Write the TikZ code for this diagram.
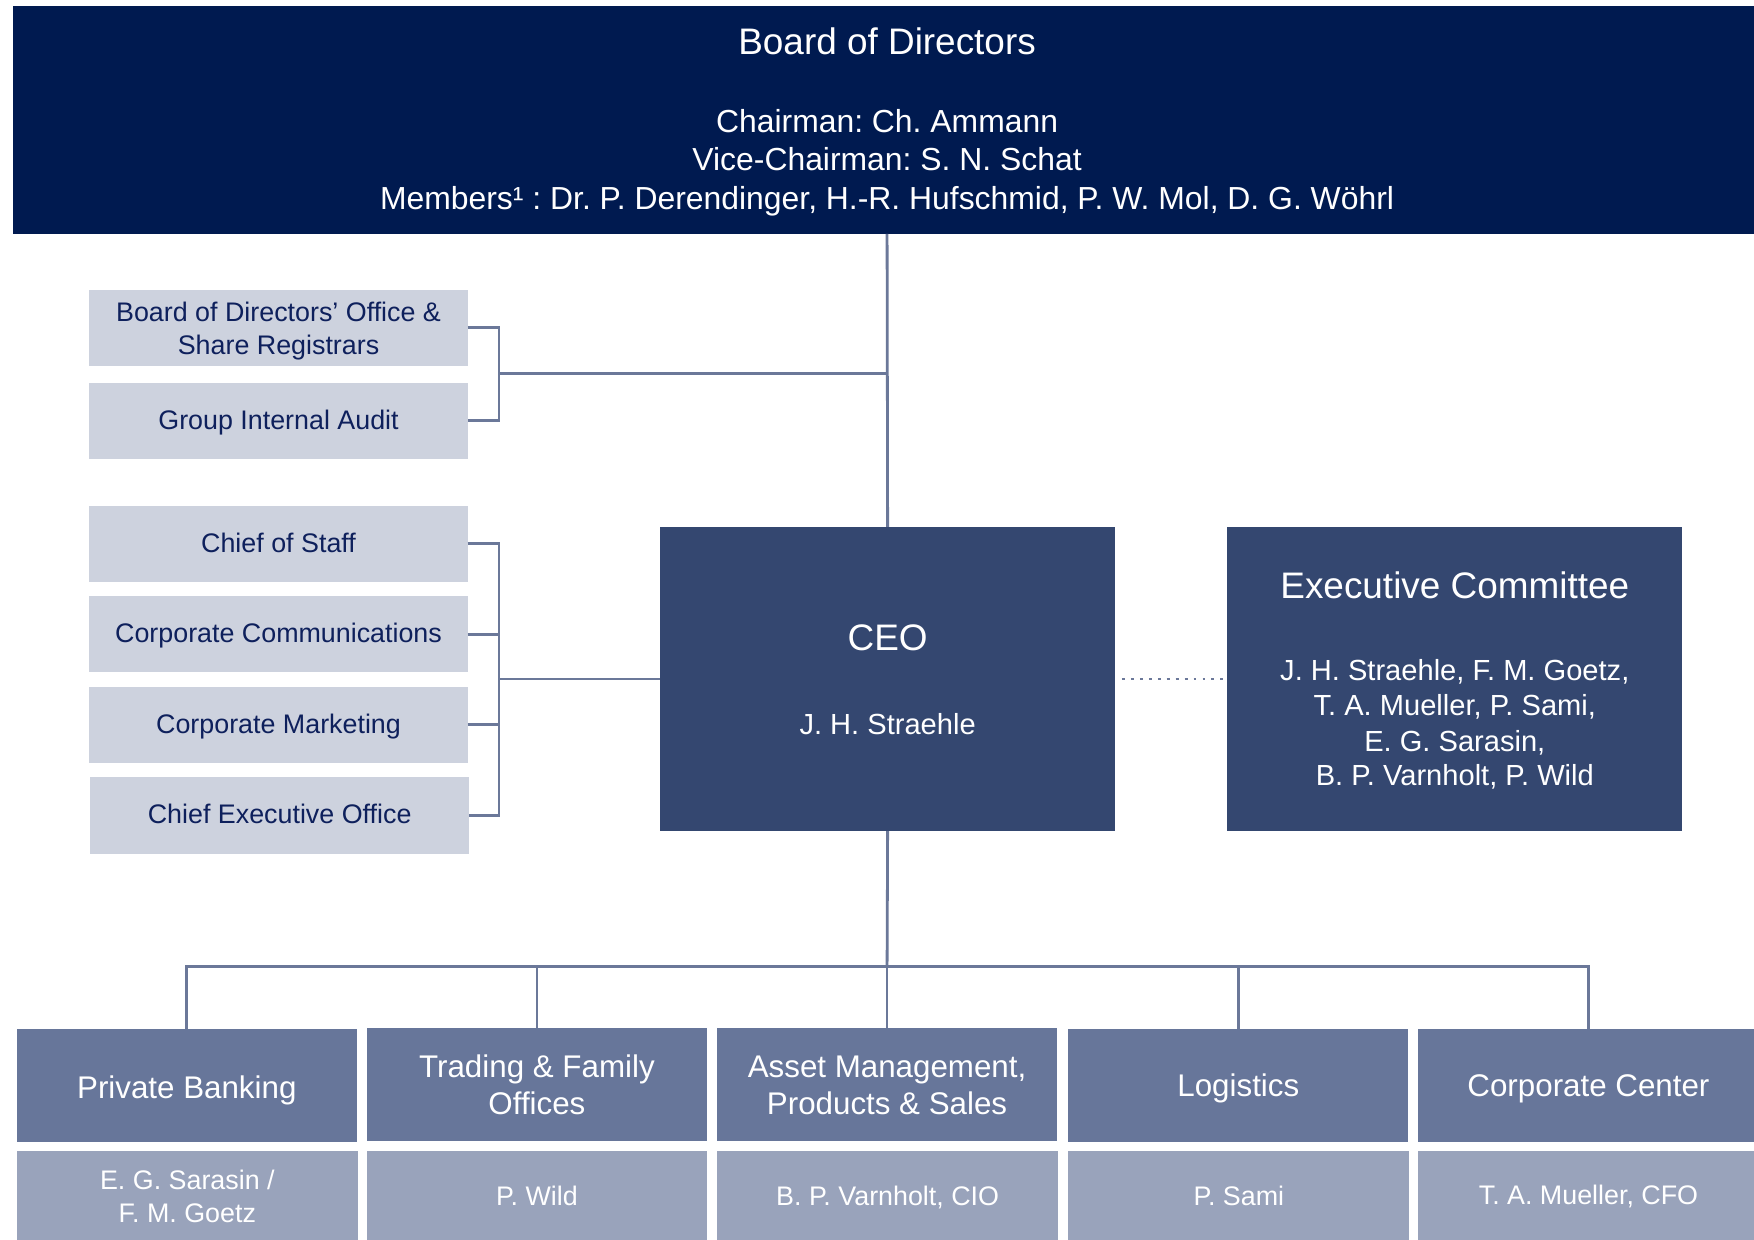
\documentclass[tikz,border=0pt]{standalone}
\usepackage{fontspec}
\setmainfont{Liberation Sans}
\frenchspacing
\definecolor{boardc}{RGB}{0,26,80}
\definecolor{ceoc}{RGB}{52,71,112}
\definecolor{lightc}{RGB}{205,210,222}
\definecolor{divc}{RGB}{103,118,154}
\definecolor{namec}{RGB}{153,163,187}
\definecolor{linec}{RGB}{107,120,153}
\definecolor{navytext}{RGB}{14,32,92}
\newcommand{\mytext}[5]{\node[anchor=base,inner sep=0pt,text=#4,font=\fontsize{#3}{#3}\selectfont\frenchspacing] (#1) at (#2) {#5};}
\begin{document}
\begin{tikzpicture}[x=1pt,y=-1pt,
  box/.style={draw=none,inner sep=0pt,outer sep=0pt,rectangle},
  conn/.style={draw=linec,line width=2.5pt},
  dotconn/.style={draw=linec,line width=2.6pt,dash pattern=on 2.6pt off 5.4pt,shorten <=6pt,shorten >=4pt}]
\useasboundingbox (0,0) rectangle (1568,1108);
% boxes
\node[box,fill=boardc,minimum width=1562pt,minimum height=204pt] (board) at (793,107) {};
\node[box,fill=lightc,minimum width=338pt,minimum height=68pt] (bdo) at (249,293) {};
\node[box,fill=lightc,minimum width=338pt,minimum height=68pt] (gia) at (249,376) {};
\node[box,fill=lightc,minimum width=338pt,minimum height=68pt] (cos) at (249,486) {};
\node[box,fill=lightc,minimum width=338pt,minimum height=68pt] (cc) at (249,567) {};
\node[box,fill=lightc,minimum width=338pt,minimum height=68pt] (cm) at (249,648) {};
\node[box,fill=lightc,minimum width=339pt,minimum height=68pt] (ceooff) at (250,729) {};
\node[box,fill=ceoc,minimum width=407pt,minimum height=272pt] (ceo) at (793.5,607) {};
\node[box,fill=ceoc,minimum width=407pt,minimum height=272pt] (exec) at (1300.5,607) {};
\node[box,fill=divc,minimum width=304pt,minimum height=101pt] (pb) at (167,970.5) {};
\node[box,fill=divc,minimum width=304pt,minimum height=101pt] (tfo) at (480,969.5) {};
\node[box,fill=divc,minimum width=304pt,minimum height=101pt] (am) at (793,969.5) {};
\node[box,fill=divc,minimum width=304pt,minimum height=101pt] (log) at (1107,970.5) {};
\node[box,fill=divc,minimum width=304pt,minimum height=101pt] (cctr) at (1420,970.5) {};
\node[box,fill=namec,minimum width=305pt,minimum height=86pt] (n1) at (167.5,1072) {};
\node[box,fill=namec,minimum width=304pt,minimum height=86pt] (n2) at (480,1072) {};
\node[box,fill=namec,minimum width=305pt,minimum height=86pt] (n3) at (793.5,1072) {};
\node[box,fill=namec,minimum width=305pt,minimum height=86pt] (n4) at (1107.5,1072) {};
\node[box,fill=namec,minimum width=304pt,minimum height=86pt] (n5) at (1420,1072) {};
% texts
\mytext{t1}{793,49}{33}{white}{Board of Directors}
\mytext{t2}{793,118.3}{28.5}{white}{Chairman: Ch. Ammann}
\mytext{t3}{793,152.3}{28.5}{white}{Vice-Chairman: S. N. Schat}
\mytext{t4}{793,187.3}{28.5}{white}{Members¹ : Dr. P. Derendinger, H.-R. Hufschmid, P. W. Mol, D. G. Wöhrl}
\mytext{t5}{249,287.6}{24}{navytext}{Board of Directors’ Office \&}
\mytext{t6}{249,316.6}{24}{navytext}{Share Registrars}
\mytext{t7}{249,383.6}{24}{navytext}{Group Internal Audit}
\mytext{t8}{249,493.6}{24}{navytext}{Chief of Staff}
\mytext{t9}{249,574.6}{24}{navytext}{Corporate Communications}
\mytext{t10}{249,655.6}{24}{navytext}{Corporate Marketing}
\mytext{t11}{250,736.6}{24}{navytext}{Chief Executive Office}
\mytext{t12}{793.5,581.9}{33}{white}{CEO}
\mytext{t13}{793.5,656.4}{26}{white}{J. H. Straehle}
\mytext{t14}{1300.5,534.9}{33}{white}{Executive Committee}
\mytext{t15}{1300.5,608.4}{26}{white}{J. H. Straehle, F. M. Goetz,}
\mytext{t16}{1300.5,639.4}{26}{white}{T. A. Mueller, P. Sami,}
\mytext{t17}{1300.5,671.4}{26}{white}{E. G. Sarasin,}
\mytext{t18}{1300.5,702.4}{26}{white}{B. P. Varnholt, P. Wild}
\mytext{t19}{167,982}{28}{white}{Private Banking}
\mytext{t20}{480,963}{28}{white}{Trading \& Family}
\mytext{t21}{480,996}{28}{white}{Offices}
\mytext{t22}{793,963}{28}{white}{Asset Management,}
\mytext{t23}{793,996}{28}{white}{Products \& Sales}
\mytext{t24}{1107,980}{28}{white}{Logistics}
\mytext{t25}{1420,980}{28}{white}{Corporate Center}
\mytext{t26}{167.5,1063.6}{24}{white}{E. G. Sarasin /}
\mytext{t27}{167.5,1092.6}{24}{white}{F. M. Goetz}
\mytext{t28}{480,1077.6}{24}{white}{P. Wild}
\mytext{t29}{793.5,1077.6}{24}{white}{B. P. Varnholt, CIO}
\mytext{t30}{1107.5,1077.6}{24}{white}{P. Sami}
\mytext{t31}{1420,1076.6}{24}{white}{T. A. Mueller, CFO}
% connectors
\coordinate (j1) at (446,334);
\coordinate (j2) at (446,607);
\coordinate (bus) at (793,864);
\draw[conn] (board.south) -- (ceo.north);
\draw[conn] (bdo.east) -- (bdo.east -| j1) -- (gia.east -| j1) -- (gia.east);
\draw[conn] (j1) -- (j1 -| ceo.north);
\draw[conn] (cos.east) -- (cos.east -| j2) -- (ceooff.east -| j2) -- (ceooff.east);
\draw[conn] (cc.east) -- (cc.east -| j2);
\draw[conn] (cm.east) -- (cm.east -| j2);
\draw[conn] (j2) -- (ceo.west);
\draw[dotconn] (ceo.east) -- (exec.west);
\draw[conn] (ceo.south) -- (bus);
\draw[conn] (pb.north) -- (pb.north |- bus) -- (cctr.north |- bus) -- (cctr.north);
\draw[conn] (tfo.north) -- (tfo.north |- bus);
\draw[conn] (am.north) -- (am.north |- bus);
\draw[conn] (log.north) -- (log.north |- bus);
\end{tikzpicture}
\end{document}
